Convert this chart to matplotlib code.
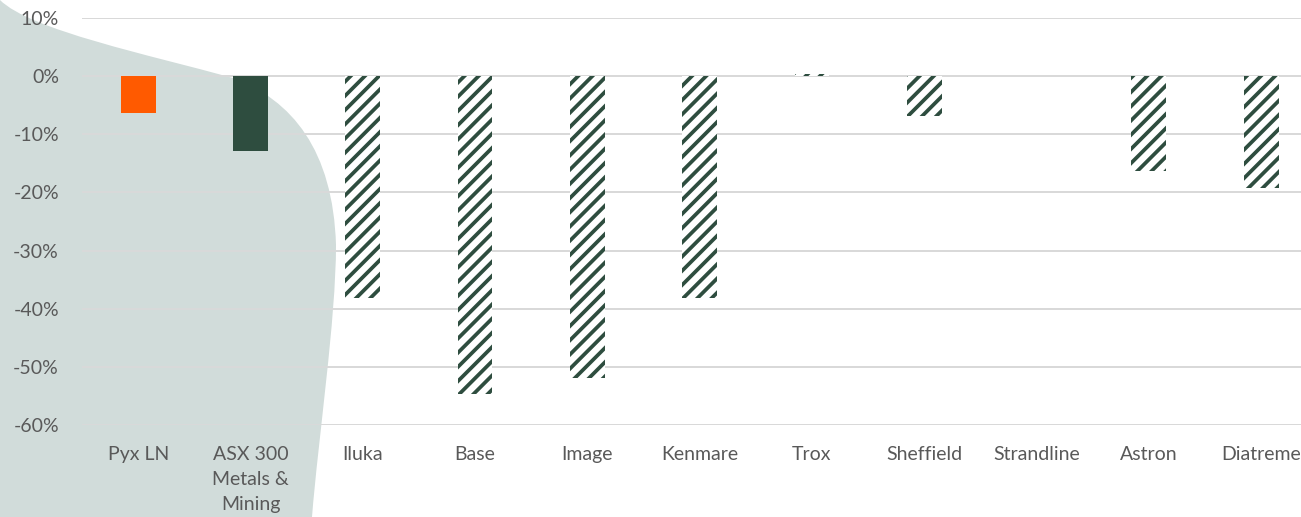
import numpy as np
import matplotlib
matplotlib.use("Agg")
from matplotlib import pyplot as plt
from matplotlib.path import Path
from matplotlib.patches import PathPatch

# data
names = ["Pyx LN", "ASX 300\nMetals &\nMining", "Iluka", "Base", "Image", "Kenmare",
         "Trox", "Sheffield", "Strandline", "Astron", "Diatreme"]
returns = [-6.4, -12.8, -38.1, -54.6, -51.9, -38.2, 0.3, -6.9, 0.0, -16.4, -19.3]
kinds = ["pyx", "index", "peer", "peer", "peer", "peer", "peer", "peer", "peer", "peer", "peer"]
yticks = [10, 0, -10, -20, -30, -40, -50, -60]

ORANGE = "#FF5A00"
GREEN = "#2E4D3F"
SHAPE = "#D1DCDA"
GREY = "#595959"

W, H, DPI = 1301, 517, 128
plt.rcParams["font.family"] = ["Lato", "DejaVu Sans"]
plt.rcParams["hatch.linewidth"] = 2.1

fig = plt.figure(figsize=(W / DPI, H / DPI), dpi=DPI)

# decorative background blob on the left (pixel coords, y down)
pts = [(0, 0), (30, 30), (150, 55), (233, 78),
       (292, 100), (333, 150), (336, 245),
       (336, 320), (318, 440), (312, 517),
       (0, 517), (0, 0)]
codes = [Path.MOVETO] + [Path.CURVE4] * 9 + [Path.LINETO, Path.CLOSEPOLY]
verts = [(x / W, 1 - y / H) for x, y in pts]
fig.patches.append(PathPatch(Path(verts, codes), facecolor=SHAPE, edgecolor="none",
                             transform=fig.transFigure, zorder=-5))

left, top, bot = 82 / W, 1 - 18 / H, 1 - 425 / H
ax = fig.add_axes([left, bot, 11 * 112.3 / W, top - bot])
ax.set_zorder(1)
ax.patch.set_alpha(0)

x = np.arange(len(names))
for xi, v, k in zip(x, returns, kinds):
    if k == "pyx":
        ax.bar(xi, v, width=0.31, color=ORANGE, zorder=3)
    elif k == "index":
        ax.bar(xi, v, width=0.31, color=GREEN, zorder=3)
    else:
        ax.bar(xi, v, width=0.31, facecolor="white", edgecolor=GREEN,
               hatch="///", linewidth=0, zorder=3)

ax.set_xlim(-0.5, len(names) - 0.5)
ax.set_ylim(-60, 10)
ax.set_yticks(yticks)
ax.set_yticklabels([f"{t}%" for t in yticks])
ax.set_xticks(x)
ax.set_xticklabels(names, linespacing=1.55, va="top")
ax.grid(axis="y", color="#D9D9D9", linewidth=1.1, zorder=1)
for s in ax.spines.values():
    s.set_visible(False)
ax.tick_params(axis="both", length=0, colors=GREY, labelsize=11)
ax.tick_params(axis="y", pad=13)
ax.tick_params(axis="x", pad=12)

fig.savefig("out.png", dpi=DPI)
